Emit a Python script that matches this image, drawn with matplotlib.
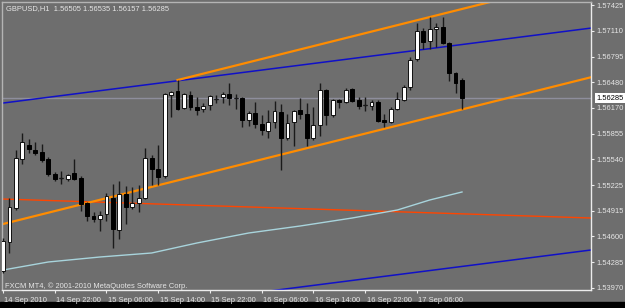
import matplotlib
matplotlib.use("Agg")
import matplotlib.pyplot as plt
from matplotlib.patches import Rectangle
import numpy as np

# ---------------- data ----------------
x_labels = ["14 Sep 2010", "14 Sep 22:00", "15 Sep 06:00", "15 Sep 14:00", "15 Sep 22:00",
            "16 Sep 06:00", "16 Sep 14:00", "16 Sep 22:00", "17 Sep 06:00"]
x_label_bars = [0, 8, 16, 24, 32, 40, 48, 56, 64]

opens = [1.54177, 1.54531, 1.54946, 1.55545, 1.55716, 1.55655, 1.55630, 1.55545, 1.55362, 1.55313,
         1.55300, 1.55374, 1.55313, 1.55007, 1.54849, 1.54812, 1.54873, 1.55068, 1.54678, 1.55117,
         1.54959, 1.55007, 1.55068, 1.55557, 1.55423, 1.55337, 1.56326, 1.56375, 1.56167, 1.56326,
         1.56180, 1.56155, 1.56204, 1.56277, 1.56302, 1.56338, 1.56289, 1.56289, 1.56021, 1.56106,
         1.55972, 1.55887, 1.55996, 1.56119, 1.55801, 1.55996, 1.56143, 1.56094, 1.55801, 1.55960,
         1.56387, 1.56082, 1.56265, 1.56241, 1.56399, 1.56265, 1.56204, 1.56192, 1.56241, 1.56021,
         1.55996, 1.56155, 1.56265, 1.56424, 1.56766, 1.57108, 1.56985, 1.57132, 1.57156, 1.56961,
         1.56595, 1.56505]
highs = [1.54580, 1.55068, 1.55655, 1.55862, 1.55789, 1.55752, 1.55728, 1.55569, 1.55386, 1.55398,
         1.55362, 1.55545, 1.55337, 1.55020, 1.54898, 1.54910, 1.55130, 1.55239, 1.55276, 1.55215,
         1.55203, 1.55227, 1.55679, 1.55594, 1.55716, 1.56351, 1.56375, 1.56509, 1.56351, 1.56375,
         1.56302, 1.56228, 1.56326, 1.56326, 1.56363, 1.56473, 1.56338, 1.56302, 1.56131, 1.56241,
         1.56082, 1.56143, 1.56253, 1.56216, 1.56094, 1.56143, 1.56289, 1.56228, 1.56180, 1.56473,
         1.56399, 1.56277, 1.56277, 1.56412, 1.56412, 1.56302, 1.56302, 1.56265, 1.56265, 1.56094,
         1.56180, 1.56363, 1.56448, 1.56790, 1.57205, 1.57144, 1.57278, 1.57205, 1.57278, 1.56973,
         1.56607, 1.56535]
lows = [1.54153, 1.54397, 1.54922, 1.55484, 1.55618, 1.55594, 1.55508, 1.55337, 1.55276, 1.55239,
        1.55276, 1.55288, 1.54910, 1.54788, 1.54775, 1.54666, 1.54788, 1.54458, 1.54568, 1.54751,
        1.54934, 1.54898, 1.55056, 1.55227, 1.55227, 1.55313, 1.56057, 1.56143, 1.56155, 1.56143,
        1.56082, 1.56119, 1.56143, 1.56228, 1.56228, 1.56204, 1.56155, 1.55935, 1.55948, 1.55923,
        1.55838, 1.55801, 1.55923, 1.55410, 1.55777, 1.55703, 1.56033, 1.55703, 1.55777, 1.55826,
        1.55960, 1.56057, 1.56167, 1.56228, 1.56241, 1.56155, 1.56131, 1.56143, 1.55996, 1.55935,
        1.55984, 1.56143, 1.56253, 1.56387, 1.56741, 1.56888, 1.56888, 1.56912, 1.56949, 1.56497,
        1.56351, 1.56157]
closes = [1.54543, 1.54959, 1.55557, 1.55752, 1.55667, 1.55618, 1.55533, 1.55362, 1.55300, 1.55310,
          1.55349, 1.55300, 1.54995, 1.54849, 1.54812, 1.54861, 1.55093, 1.54690, 1.55117, 1.54959,
          1.55007, 1.55068, 1.55557, 1.55423, 1.55325, 1.56338, 1.56363, 1.56155, 1.56338, 1.56180,
          1.56143, 1.56192, 1.56314, 1.56275, 1.56338, 1.56289, 1.56291, 1.56021, 1.56106, 1.55972,
          1.55899, 1.55996, 1.56131, 1.55801, 1.55984, 1.56131, 1.56094, 1.55801, 1.55960, 1.56387,
          1.56082, 1.56265, 1.56241, 1.56387, 1.56253, 1.56192, 1.56202, 1.56241, 1.56009, 1.55996,
          1.56155, 1.56277, 1.56424, 1.56754, 1.57108, 1.56973, 1.57132, 1.57156, 1.56961, 1.56595,
          1.56473, 1.56285]

# moving average (light cyan) sample points
ma_bars = [0, 7, 15, 23, 30, 38, 46, 54, 61, 66, 71]
ma_vals = [1.54189, 1.54287, 1.54348, 1.54397, 1.54519, 1.54641, 1.54727, 1.54824, 1.54922, 1.55044, 1.55142]

# trend lines (bar, price anchors)
upper_orange_bars = [27, 66]
upper_orange_vals = [1.56509, 1.57278]
lower_orange_bars = [0, 71]
lower_orange_vals = [1.54751, 1.56150]
blue_upper_bars = [0, 91]
blue_upper_vals = [1.56228, 1.57144]
blue_lower_bars = [0, 91]
blue_lower_vals = [1.53518, 1.54434]
red_line_bars = [0, 91]
red_line_vals = [1.55056, 1.54824]

bid_price = 1.56285
y_ticks = [1.57425, 1.57110, 1.56795, 1.56480, 1.56170, 1.55855, 1.55540,
           1.55225, 1.54915, 1.54600, 1.54285, 1.53970]
title = "GBPUSD,H1  1.56505 1.56535 1.56157 1.56285"
copyright_txt = "FXCM MT4, \u00a9 2001-2010 MetaQuotes Software Corp."

# ---------------- drawing ----------------
BG = "#6e6e6e"
TXT = "#e6e6e6"
FONT = "Liberation Sans"
FS = 5.4

W, H = 625, 308
fig = plt.figure(figsize=(W / 100, H / 100), dpi=100, facecolor=BG)
ax = fig.add_axes([2 / W, (H - 290) / H, (591 - 2) / W, (290 - 2) / H])
ax.set_facecolor(BG)

bar_px = 6.465
ax.set_xlim(-(1.0 / bar_px), (591 - 3) / bar_px)
ax.set_ylim(1.53945, 1.57462)

def extend(bars, vals, x0, x1):
    slope = (vals[1] - vals[0]) / (bars[1] - bars[0])
    return [x0, x1], [vals[0] + slope * (x0 - bars[0]), vals[0] + slope * (x1 - bars[0])]

xr = ax.get_xlim()[1] + 2
xl = ax.get_xlim()[0] - 2

# bid line
ax.axhline(bid_price, color="#8e8e9c", lw=1.0, zorder=1)

# red line
xs, ys = extend(red_line_bars, red_line_vals, xl, xr)
ax.plot(xs, ys, color="#ff4500", lw=1.0, zorder=2)
# MA
ax.plot(ma_bars, ma_vals, color="#a8d4dc", lw=1.0, zorder=2)
# blue lines
xs, ys = extend(blue_upper_bars, blue_upper_vals, xl, xr)
ax.plot(xs, ys, color="#1010c8", lw=1.1, zorder=2)
xs, ys = extend(blue_lower_bars, blue_lower_vals, xl, xr)
ax.plot(xs, ys, color="#1010c8", lw=1.1, zorder=2)
# orange channel
xs, ys = extend(upper_orange_bars, upper_orange_vals, upper_orange_bars[0], xr)
ax.plot(xs, ys, color="#ff8c00", lw=1.6, zorder=2)
xs, ys = extend(lower_orange_bars, lower_orange_vals, xl, xr)
ax.plot(xs, ys, color="#ff8c00", lw=1.6, zorder=2)

# candles
idx = np.arange(len(opens))
o = np.array(opens); h = np.array(highs); l = np.array(lows); c = np.array(closes)
ax.vlines(idx, l, h, color="#1a1a1a", lw=1.0, zorder=3)
up = c > o
down = c < o
flat = ~(up | down)
bw = 0.6
ax.bar(idx[up], (c - o)[up], bottom=o[up], width=bw, color="white",
       edgecolor="#101010", linewidth=0.7, zorder=4)
ax.bar(idx[down], (o - c)[down], bottom=c[down], width=bw, color="black",
       edgecolor="black", linewidth=0.7, zorder=4)
small = np.abs(c - o) < 0.00004
ax.hlines(o[small], idx[small] - bw / 2, idx[small] + bw / 2, color="#1a1a1a", lw=1.0, zorder=4)

# axes styling
for s in ["top", "left"]:
    ax.spines[s].set_color("#b4b4b4")
for s in ["bottom", "right"]:
    ax.spines[s].set_color("#ececec")
for s in ax.spines.values():
    s.set_linewidth(1.0)

ax.yaxis.tick_right()
ax.set_yticks(y_ticks)
ax.set_yticklabels([f"{v:.5f}" for v in y_ticks], fontfamily=FONT, fontsize=FS, color=TXT)
ax.tick_params(axis="y", which="both", length=2.5, width=0.8, color="#ececec", pad=1.5, direction="out")

ax.set_xticks(x_label_bars)
ax.set_xticklabels(x_labels, fontfamily=FONT, fontsize=FS, color=TXT, ha="left")
ax.tick_params(axis="x", which="both", length=2.5, width=0.8, color="#ececec", pad=2.2, direction="out")
for lab in ax.get_xticklabels():
    lab.set_x(lab.get_position()[0])
import matplotlib.transforms as mtrans
offset = mtrans.ScaledTranslation(1.5 / 100, 0, fig.dpi_scale_trans)
for lab in ax.get_xticklabels():
    lab.set_transform(lab.get_transform() + offset)

# current price box
ax.annotate(f"{bid_price:.5f}", xy=(1, bid_price), xycoords=("axes fraction", "data"),
            xytext=(4.2, 0), textcoords="offset points", ha="left", va="center",
            fontfamily=FONT, fontsize=FS, color="black",
            bbox=dict(boxstyle="square,pad=0.2", fc="white", ec="none"), annotation_clip=False, zorder=10)

# texts
fig.text(6 / W, 1 - 8.5 / H, title, fontfamily=FONT, fontsize=FS, color=TXT, ha="left", va="center")
fig.text(5 / W, 1 - 286 / H, copyright_txt, fontfamily=FONT, fontsize=FS, color=TXT, ha="left", va="center")

# bottom black strip
fig.add_artist(Rectangle((0, 0), 1, 6 / H, transform=fig.transFigure, color="black", zorder=-1))

fig.savefig("out.png", dpi=100, facecolor=BG)
